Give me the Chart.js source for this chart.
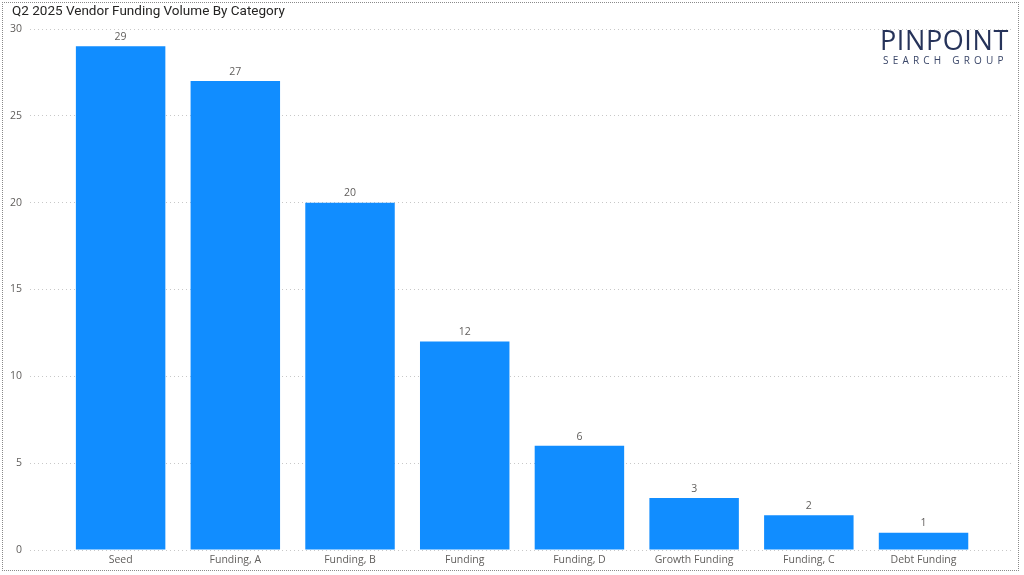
<!DOCTYPE html>
<html>
<head>
<meta charset="utf-8">
<script src="https://cdn.jsdelivr.net/npm/chart.js@4/dist/chart.umd.min.js"></script>
<style>
  html, body { margin: 0; padding: 0; background: #fff; }
  #wrap { position: relative; width: 1024px; height: 575px; overflow: hidden; }
  #frame { position: absolute; left: 2px; top: 2px; width: 1017px; height: 569px; border: 1px dotted #8a8a8a; box-sizing: border-box; pointer-events: none; }
  #title { position: absolute; left: 12px; top: 2px; font-family: Roboto, "DejaVu Sans", sans-serif; font-size: 13.5px; color: #252423; white-space: nowrap; }
  #logo1 { position: absolute; left: 880px; top: 21px; font-family: "Open Sans", Roboto, sans-serif; font-weight: 400; font-size: 27px; color: #26335a; letter-spacing: 0.6px; white-space: nowrap; }
  #logo2 { position: absolute; left: 883px; top: 53px; font-family: "Open Sans", Roboto, sans-serif; font-size: 10px; color: #3a4668; letter-spacing: 4.2px; white-space: nowrap; }
  canvas { position: absolute; left: 0; top: 0; }
</style>
</head>
<body>
<div id="wrap">
  <canvas id="c" width="1024" height="575"></canvas>
  <div id="title">Q2 2025 Vendor Funding Volume By Category</div>
  <div id="logo1">PINPOINT</div>
  <div id="logo2">SEARCH GROUP</div>
  <div id="frame"></div>
</div>
<script>
const categories = ["Seed", "Funding, A", "Funding, B", "Funding", "Funding, D", "Growth Funding", "Funding, C", "Debt Funding"];
const fundingVolume = [29, 27, 20, 12, 6, 3, 2, 1];
const yTicks = [0, 5, 10, 15, 20, 25, 30];

const FONT = "'Open Sans', 'Noto Sans', sans-serif";

const dataLabelPlugin = {
  id: 'dataLabels',
  afterDatasetsDraw(chart) {
    const ctx = chart.ctx;
    const meta = chart.getDatasetMeta(0);
    ctx.save();
    ctx.font = "10.5px " + FONT;
    ctx.fillStyle = "#605E5C";
    ctx.textAlign = "center";
    ctx.textBaseline = "bottom";
    meta.data.forEach((bar, i) => {
      ctx.fillText(String(chart.data.datasets[0].data[i]), bar.x, bar.y - 4);
    });
    ctx.restore();
  }
};

new Chart(document.getElementById('c'), {
  type: 'bar',
  data: {
    labels: categories,
    datasets: [{
      data: fundingVolume,
      backgroundColor: '#118DFF',
      borderWidth: 0,
      categoryPercentage: 1,
      barPercentage: 0.78
    }]
  },
  options: {
    responsive: false,
    animation: false,
    events: [],
    layout: { padding: { left: 0, right: 11, top: 29, bottom: 0 } },
    plugins: { legend: { display: false }, tooltip: { enabled: false } },
    scales: {
      x: {
        type: 'category',
        offset: false,
        grid: { display: false, drawTicks: false },
        border: { display: false },
        ticks: { color: '#605E5C', font: { family: FONT, size: 10.5 }, padding: 4, maxRotation: 0, autoSkip: false },
        afterFit(scale) { scale.height = 25; },
        afterBuildTicks(scale) {
          scale._startValue = -0.79;
          scale._valueRange = categories.length - 1 + 1.57;
        }
      },
      y: {
        min: 0,
        max: 30,
        afterBuildTicks(scale) { scale.ticks = yTicks.map(v => ({ value: v })); },
        grid: { color: '#C8C8C8', lineWidth: 1, drawTicks: false, tickLength: 0 },
        border: { display: false, dash: [1, 3] },
        ticks: { color: '#605E5C', font: { family: FONT, size: 10.5 }, padding: 8 },
        afterFit(scale) { scale.width = 30; }
      }
    }
  },
  plugins: [dataLabelPlugin]
});
</script>
</body>
</html>
